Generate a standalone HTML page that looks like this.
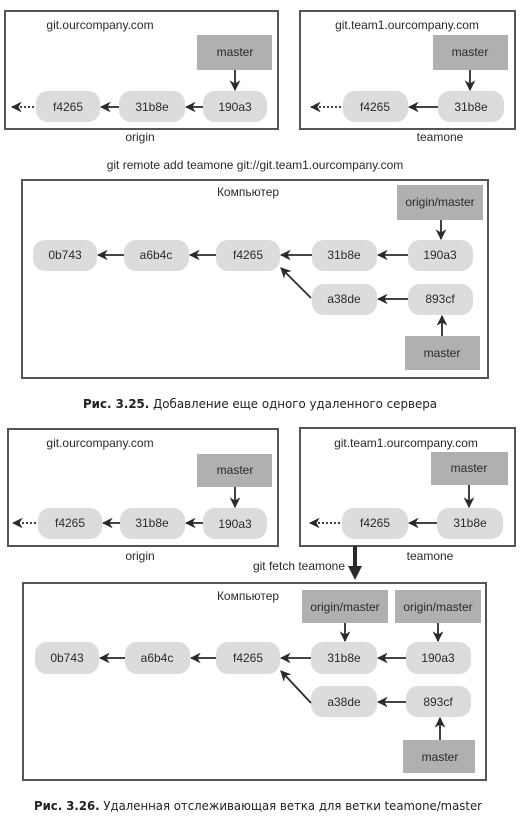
<!DOCTYPE html>
<html><head><meta charset="utf-8"><style>
html,body{margin:0;padding:0;background:#fff;}
svg{display:block;}
text{font-family:"Liberation Sans",Arial,sans-serif;fill:#2a2a2a;}
.b{font-size:12px;text-anchor:middle;dominant-baseline:central;}
.cap{font-family:"DejaVu Sans","Liberation Sans",sans-serif;font-size:12px;fill:#222;}
</style></head><body>
<svg width="523" height="832" viewBox="0 0 523 832" xmlns="http://www.w3.org/2000/svg">
<defs>
<marker id="ah" viewBox="0 0 10 10" refX="9" refY="5" markerWidth="6" markerHeight="6" orient="auto" markerUnits="strokeWidth"><path d="M0,0 L10,5 L0,10 L3,5 z" fill="#2a2a2a"/></marker>
</defs>
<g fill="none" stroke="#555" stroke-width="2">
<rect x="5" y="11" width="273" height="118"/>
<rect x="300" y="11" width="215" height="118"/>
<rect x="22" y="180" width="466" height="198"/>
<rect x="8" y="429" width="270" height="117"/>
<rect x="300" y="428" width="215" height="118"/>
<rect x="23" y="583" width="463" height="197"/>
</g>
<g fill="#b0b0b0">
<rect x="197" y="35" width="75" height="35"/>
<rect x="433" y="35" width="75" height="35"/>
<rect x="397" y="185" width="86" height="35"/>
<rect x="405" y="336" width="75" height="34"/>
<rect x="197" y="454" width="75" height="33"/>
<rect x="431" y="452" width="77" height="33"/>
<rect x="302" y="590" width="86" height="33"/>
<rect x="395" y="590" width="86" height="33"/>
<rect x="403" y="740" width="72" height="33"/>
</g>
<g fill="#dcdcdc">
<rect x="36" y="91" width="64" height="31" rx="12"/>
<rect x="119" y="91" width="66" height="31" rx="12"/>
<rect x="203" y="91" width="64" height="31" rx="12"/>
<rect x="343" y="91" width="65" height="31" rx="12"/>
<rect x="438" y="91" width="66" height="31" rx="12"/>
<rect x="33" y="240" width="64" height="31" rx="12"/>
<rect x="124" y="240" width="65" height="31" rx="12"/>
<rect x="216" y="240" width="64" height="31" rx="12"/>
<rect x="312" y="240" width="65" height="31" rx="12"/>
<rect x="408" y="240" width="65" height="31" rx="12"/>
<rect x="312" y="284" width="65" height="31" rx="12"/>
<rect x="408" y="284" width="65" height="31" rx="12"/>
<rect x="38" y="508" width="64" height="31" rx="12"/>
<rect x="120" y="508" width="65" height="31" rx="12"/>
<rect x="203" y="508" width="64" height="31" rx="12"/>
<rect x="342" y="508" width="66" height="31" rx="12"/>
<rect x="437" y="508" width="66" height="31" rx="12"/>
<rect x="35" y="642" width="64" height="32" rx="12"/>
<rect x="125" y="642" width="65" height="32" rx="12"/>
<rect x="216" y="642" width="64" height="32" rx="12"/>
<rect x="311" y="642" width="66" height="32" rx="12"/>
<rect x="406" y="642" width="65" height="32" rx="12"/>
<rect x="311" y="686" width="66" height="31" rx="12"/>
<rect x="406" y="686" width="65" height="31" rx="12"/>
</g>
<g stroke="#2a2a2a" stroke-width="1.8" fill="none" marker-end="url(#ah)">
<line x1="34" y1="107" x2="12" y2="107" stroke-dasharray="2,2"/>
<line x1="119" y1="107" x2="101" y2="107"/>
<line x1="203" y1="107" x2="186" y2="107"/>
<line x1="235" y1="70" x2="235" y2="90"/>
<line x1="341" y1="107" x2="311" y2="107" stroke-dasharray="2,2"/>
<line x1="438" y1="107" x2="409" y2="107"/>
<line x1="470" y1="70" x2="470" y2="90"/>
<line x1="124" y1="255" x2="98" y2="255"/>
<line x1="216" y1="255" x2="190" y2="255"/>
<line x1="312" y1="255" x2="281" y2="255"/>
<line x1="408" y1="255" x2="378" y2="255"/>
<line x1="408" y1="299" x2="378" y2="299"/>
<line x1="311" y1="298" x2="281" y2="268"/>
<line x1="441" y1="220" x2="441" y2="239"/>
<line x1="442" y1="336" x2="442" y2="316"/>
<line x1="36" y1="523" x2="13" y2="523" stroke-dasharray="2,2"/>
<line x1="120" y1="523" x2="103" y2="523"/>
<line x1="203" y1="523" x2="186" y2="523"/>
<line x1="235" y1="487" x2="235" y2="507"/>
<line x1="340" y1="523" x2="310" y2="523" stroke-dasharray="2,2"/>
<line x1="437" y1="523" x2="409" y2="523"/>
<line x1="469" y1="485" x2="469" y2="507"/>
<line x1="125" y1="658" x2="100" y2="658"/>
<line x1="216" y1="658" x2="191" y2="658"/>
<line x1="311" y1="658" x2="281" y2="658"/>
<line x1="406" y1="658" x2="378" y2="658"/>
<line x1="406" y1="702" x2="378" y2="702"/>
<line x1="311" y1="703" x2="281" y2="671"/>
<line x1="345" y1="623" x2="345" y2="641"/>
<line x1="438" y1="623" x2="438" y2="641"/>
<line x1="440" y1="740" x2="440" y2="718"/>
</g>
<line x1="355" y1="546" x2="355" y2="568" stroke="#2a2a2a" stroke-width="4"/>
<path d="M348,566 L362,566 L355,580 z" fill="#2a2a2a"/>
<g class="b">
<text x="100" y="25">git.ourcompany.com</text>
<text x="407" y="25">git.team1.ourcompany.com</text>
<text x="235" y="52">master</text>
<text x="470" y="52">master</text>
<text x="68" y="107">f4265</text><text x="152" y="107">31b8e</text><text x="235" y="107">190a3</text>
<text x="375" y="107">f4265</text><text x="471" y="107">31b8e</text>
<text x="140" y="137">origin</text><text x="440" y="137">teamone</text>
<text x="255" y="165">git remote add teamone git://git.team1.ourcompany.com</text>
<text x="248" y="192">Компьютер</text>
<text x="440" y="202">origin/master</text>
<text x="65" y="255">0b743</text><text x="156" y="255">a6b4c</text><text x="248" y="255">f4265</text><text x="344" y="255">31b8e</text><text x="440" y="255">190a3</text>
<text x="344" y="299">a38de</text><text x="440" y="299">893cf</text>
<text x="442" y="353">master</text>
<text x="100" y="443">git.ourcompany.com</text>
<text x="406" y="443">git.team1.ourcompany.com</text>
<text x="235" y="470">master</text>
<text x="469" y="468">master</text>
<text x="70" y="523">f4265</text><text x="152" y="523">31b8e</text><text x="235" y="524">190a3</text>
<text x="375" y="523">f4265</text><text x="470" y="523">31b8e</text>
<text x="140" y="556">origin</text><text x="430" y="556">teamone</text>
<text x="299" y="566">git fetch teamone</text>
<text x="248" y="596">Компьютер</text>
<text x="345" y="607">origin/master</text>
<text x="438" y="607">origin/master</text>
<text x="67" y="658">0b743</text><text x="157" y="658">a6b4c</text><text x="248" y="658">f4265</text><text x="344" y="658">31b8e</text><text x="438" y="658">190a3</text>
<text x="344" y="702">a38de</text><text x="438" y="702">893cf</text>
<text x="440" y="757">master</text>
</g>
<text class="cap" x="83" y="408" textLength="354" lengthAdjust="spacingAndGlyphs"><tspan font-weight="bold">Рис. 3.25.</tspan> Добавление еще одного удаленного сервера</text>
<text class="cap" x="34" y="810" textLength="448" lengthAdjust="spacingAndGlyphs"><tspan font-weight="bold">Рис. 3.26.</tspan> Удаленная отслеживающая ветка для ветки teamone/master</text>
</svg>
</body></html>
